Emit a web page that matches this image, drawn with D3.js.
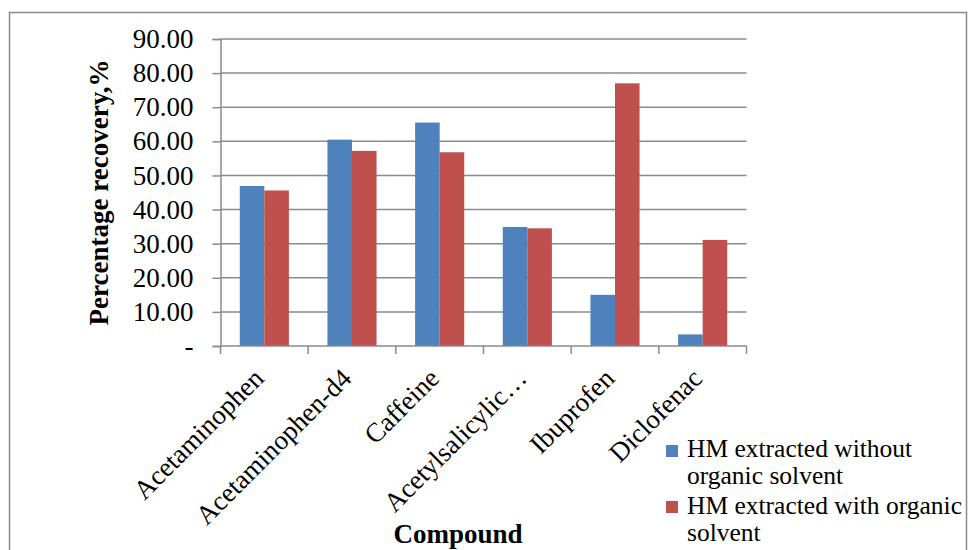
<!DOCTYPE html>
<html>
<head>
<meta charset="utf-8">
<script src="https://cdn.jsdelivr.net/npm/d3@7"></script>
<style>
  html, body { margin: 0; padding: 0; background: #fff; }
  svg { display: block; }
  text { font-family: "Liberation Serif", "Times New Roman", serif; fill: #000; }
</style>
</head>
<body>
<svg id="chart" width="969" height="550"></svg>
<script>
// Recovery (%) per compound for the two HM extraction methods
const compounds = ["Acetaminophen", "Acetaminophen-d4", "Caffeine", "Acetylsalicylic\u2026", "Ibuprofen", "Diclofenac"];
const seriesNames = ["HM extracted without organic solvent", "HM extracted with organic solvent"];
const withoutSolvent = [46.9, 60.5, 65.5, 34.9, 15.0, 3.4];
const withSolvent = [45.6, 57.2, 56.8, 34.5, 77.0, 31.1];
const yTicks = [0, 10, 20, 30, 40, 50, 60, 70, 80, 90];
const legendLines = [["HM extracted without", "organic solvent"], ["HM extracted with organic", "solvent"]];
const colors = ["#4F81BD", "#C0504D"];

const svg = d3.select("#chart");
const plot = { left: 220.5, right: 746.5, top: 39, bottom: 346 };
const gridColor = "#8a8a8a";

// chart frame
svg.append("rect")
  .attr("x", 9.5).attr("y", 12.5)
  .attr("width", 957).attr("height", 560)
  .attr("fill", "none").attr("stroke", "#888").attr("stroke-width", 1.5);

const x = d3.scaleBand().domain(compounds).range([plot.left, plot.right]).paddingInner(0).paddingOuter(0);
const y = d3.scaleLinear().domain([0, 90]).range([plot.bottom, plot.top]);

// horizontal gridlines
svg.append("g").selectAll("line").data(yTicks.filter(d => d > 0)).join("line")
  .attr("x1", plot.left).attr("x2", plot.right)
  .attr("y1", d => y(d)).attr("y2", d => y(d))
  .attr("stroke", gridColor).attr("stroke-width", 1.5);

// y axis
const yAxis = d3.axisLeft(y).tickValues(yTicks).tickSize(8).tickPadding(19)
  .tickFormat(d => d === 0 ? "-" : d3.format(".2f")(d));
const gy = svg.append("g").attr("transform", `translate(${plot.left},0)`).call(yAxis);
gy.select(".domain").attr("stroke", gridColor).attr("stroke-width", 1.5);
gy.selectAll(".tick line").attr("stroke", gridColor).attr("stroke-width", 1.5);
gy.selectAll(".tick text").attr("font-size", 27).attr("font-family", "Liberation Serif").attr("fill", "#000");

// bars
const step = x.step();
const barW = step * 0.28;
const offset = step * 0.22;
const series = [withoutSolvent, withSolvent];
series.forEach((vals, si) => {
  svg.append("g").selectAll("rect").data(compounds).join("rect")
    .attr("x", (d) => x(d) + offset + si * barW)
    .attr("width", barW)
    .attr("y", (d, i) => y(vals[i]))
    .attr("height", (d, i) => y(0) - y(vals[i]))
    .attr("fill", colors[si]);
});

// x axis baseline and category boundary ticks
svg.append("line")
  .attr("x1", plot.left).attr("x2", plot.right)
  .attr("y1", plot.bottom).attr("y2", plot.bottom)
  .attr("stroke", gridColor).attr("stroke-width", 1.5);
const boundaries = compounds.map(c => x(c)).concat([plot.right]);
svg.append("g").selectAll("line").data(boundaries).join("line")
  .attr("x1", d => d).attr("x2", d => d)
  .attr("y1", plot.bottom).attr("y2", plot.bottom + 8)
  .attr("stroke", gridColor).attr("stroke-width", 1.5);

// rotated category labels
svg.append("g").selectAll("text").data(compounds).join("text")
  .attr("transform", d => `translate(${x(d) + step / 2 + 1},${plot.bottom + 34}) rotate(-45)`)
  .attr("text-anchor", "end")
  .attr("font-size", 27)
  .text(d => d);

// axis titles
svg.append("text")
  .attr("transform", `translate(108,${(plot.top + plot.bottom) / 2}) rotate(-90)`)
  .attr("text-anchor", "middle")
  .attr("font-size", 27).attr("font-weight", "bold")
  .text("Percentage recovery,%");

svg.append("text")
  .attr("x", 458).attr("y", 543)
  .attr("text-anchor", "middle")
  .attr("font-size", 27).attr("font-weight", "bold")
  .text("Compound");

// legend
const legendTop = [445, 501];
const legendBaseline = [457, 514];
const lg = svg.append("g");
legendLines.forEach((lines, i) => {
  lg.append("rect")
    .attr("x", 666).attr("y", legendTop[i])
    .attr("width", 12).attr("height", 12)
    .attr("fill", colors[i]);
  lg.append("text")
    .attr("x", 687).attr("y", legendBaseline[i])
    .attr("font-size", 25.5)
    .selectAll("tspan").data(lines).join("tspan")
    .attr("x", 687).attr("dy", (d, k) => k === 0 ? 0 : 27)
    .text(d => d);
});
</script>
</body>
</html>
